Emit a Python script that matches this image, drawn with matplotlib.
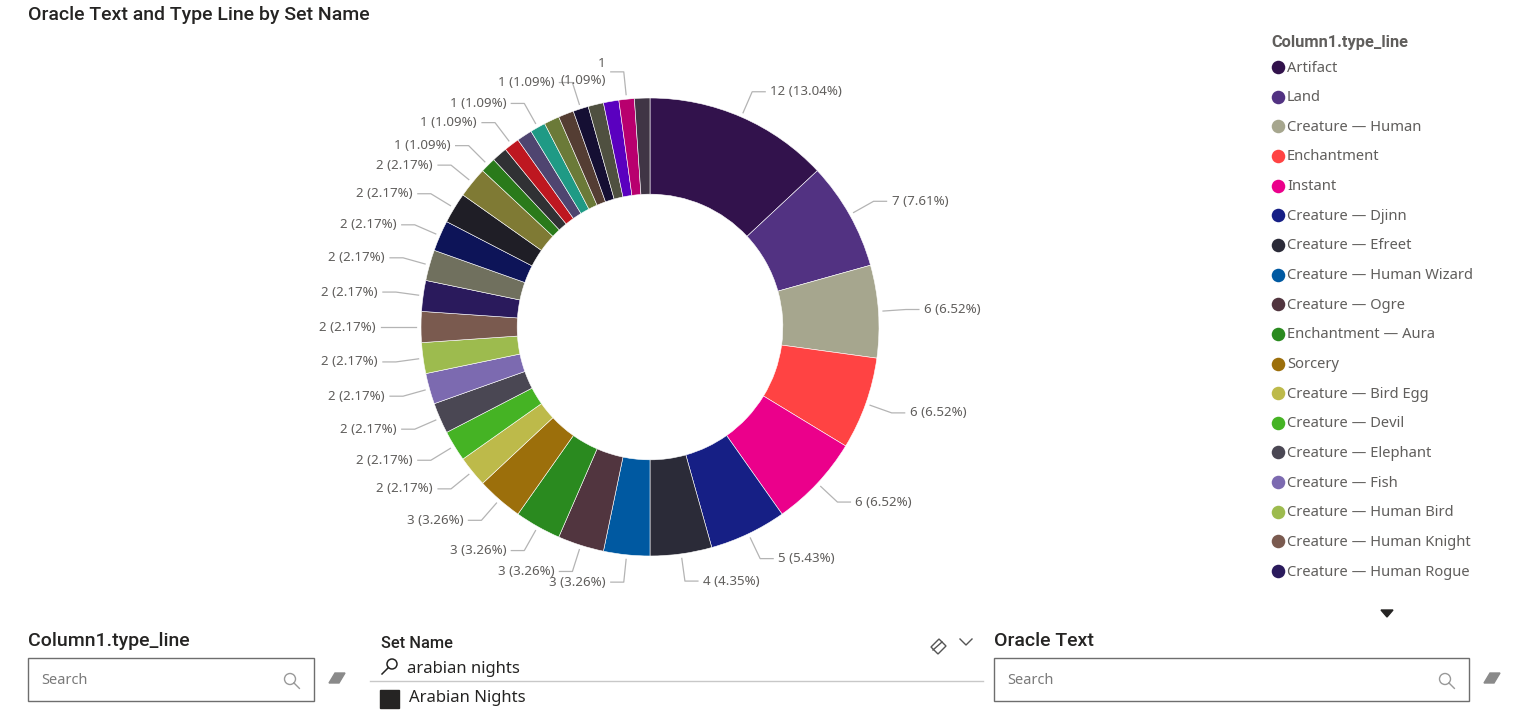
import matplotlib.pyplot as plt
import numpy as np
from matplotlib.patches import Circle, Polygon, Rectangle

plt.rcParams["font.family"] = ["Noto Sans", "DejaVu Sans"]

# slices in clockwise order, largest first (Arabian Nights set)
type_lines = [
    "Artifact", "Land", "Creature — Human", "Enchantment", "Instant",
    "Creature — Djinn", "Creature — Efreet", "Creature — Human Wizard",
    "Creature — Ogre", "Enchantment — Aura", "Sorcery",
    "Creature — Bird Egg", "Creature — Devil", "Creature — Elephant",
    "Creature — Fish", "Creature — Human Bird", "Creature — Human Knight",
    "Creature — Human Rogue", "Creature — Human Warrior", "Creature — Snake",
    "Creature — Zombie", "Land — Desert",
    "Artifact Creature — Construct", "Creature — Ape", "Creature — Beast",
    "Creature — Bird", "Creature — Camel", "Creature — Human Nomad",
    "Creature — Human Pirate", "Creature — Jackal", "Creature — Plant",
    "Creature — Turtle", "Creature — Wolf", "World Enchantment",
]
counts = [12, 7, 6, 6, 6, 5, 4, 3, 3, 3, 3,
          2, 2, 2, 2, 2, 2, 2, 2, 2, 2, 2,
          1, 1, 1, 1, 1, 1, 1, 1, 1, 1, 1, 1]
colors = [
    "#32124C", "#523282", "#A6A68E", "#FF4343", "#EB008B", "#161F85",
    "#2B2B38", "#0059A1", "#51353F", "#2A8A1F", "#9C6F0B",
    "#BDBA4A", "#45B324", "#4A4753", "#7C6AB0", "#9DBB4E", "#7A5A4F",
    "#2A1A5C", "#70705E", "#0D1458", "#1F1E26", "#7F7A34",
    "#2A7A1A", "#303134", "#BE1720", "#4F4570", "#1F9A85", "#6B7A38",
    "#543D33", "#150F33", "#4F5040", "#5A00BF", "#B8006E", "#403545",
]
legend_rows = 18

W, H = 1533, 712
fig = plt.figure(figsize=(W / 100, H / 100), dpi=100)
ax = fig.add_axes([0, 0, 1, 1])


def Y(y):
    # pixel row (from top) -> data y
    return H - y


cx, cy, R = 650, Y(327), 229
wedges, _ = ax.pie(counts, colors=colors, startangle=90, counterclock=False,
                   radius=R, center=(cx, cy),
                   wedgeprops=dict(width=R * 0.42, edgecolor="white", linewidth=0.4))

# data labels; Power BI hides most of the crowded 1-count ones
total = sum(counts)
shown = [c > 1 for c in counts]
for k in (22, 24, 26, 29, 32):
    shown[k] = True
label_color = "#605E5C"
for i, w in enumerate(wedges):
    if not shown[i]:
        continue
    a = np.deg2rad((w.theta1 + w.theta2) / 2)
    c, s = np.cos(a), np.sin(a)
    side = 1 if c >= 0 else -1
    x0, y0 = cx + 1.02 * R * c, cy + 1.02 * R * s
    x1, y1 = cx + 1.12 * R * c, cy + 1.12 * R * s
    x2 = x1 + side * 13
    ax.plot([x0, x1, x2], [y0, y1, y1], color="#B4B4B4", lw=0.9)
    txt = f"{counts[i]} ({counts[i] / total * 100:.2f}%)"
    if i == 32:
        txt = f"{counts[i]}\n({counts[i] / total * 100:.2f}%)"
    ax.text(x2 + side * 5, y1, txt, ha="left" if side > 0 else "right",
            va="center", fontsize=9.6, color=label_color, multialignment="right",
            linespacing=1.45)

# title
ax.text(28, Y(15), "Oracle Text and Type Line by Set Name", fontsize=14,
        family="Roboto", fontweight="medium", color="#252423", va="center")

# legend
ax.text(1271, Y(43), "Column1.type_line", fontsize=11.8, family="Roboto",
        fontweight="bold", color="#605E5C", va="center")
for j in range(legend_rows):
    ly = Y(67 + j * 29.65)
    ax.scatter([1278], [ly], s=95, color=colors[j], zorder=3, linewidths=0)
    ax.text(1287, ly - 1, type_lines[j], fontsize=10.6, color="#605E5C", va="center")
ax.add_patch(Polygon([[1381, Y(610)], [1393, Y(610)], [1387, Y(617)]],
                     closed=True, color="#252423"))


def search_icon(x, y, r=5.5, col="#999999", lw=1.0):
    ax.add_patch(Circle((x, y), r, fill=False, ec=col, lw=lw))
    ax.plot([x + r * 0.7, x + r * 1.7], [y - r * 0.7, y - r * 1.7], color=col, lw=lw)


def eraser(x, y, col="#8A8A8A"):
    ax.add_patch(Polygon([[x - 8, y - 5], [x + 2, y - 5], [x + 8, y + 5], [x - 2, y + 5]],
                         closed=True, color=col))


# bottom slicers
slicer_font = dict(family="Roboto", fontweight="medium", color="#252423", va="center")
ax.text(28, Y(641), "Column1.type_line", fontsize=14, **slicer_font)
ax.add_patch(Rectangle((28, Y(701)), 286, 43, fill=False, ec="#6E6E6E", lw=1))
ax.text(41, Y(681), "Search", fontsize=10.5, color="#7A7A7A", va="center")
search_icon(290, Y(679))
eraser(337, Y(678))

ax.text(994, Y(641), "Oracle Text", fontsize=14, **slicer_font)
ax.add_patch(Rectangle((994, Y(701)), 475, 43, fill=False, ec="#6E6E6E", lw=1))
ax.text(1007, Y(681), "Search", fontsize=10.5, color="#7A7A7A", va="center")
search_icon(1445, Y(679))
eraser(1492, Y(678))

ax.text(381, Y(644), "Set Name", fontsize=11.8, fontweight="medium", color="#252423",
        va="center", family="Roboto")
ax.add_patch(Circle((392, Y(664)), 5, fill=False, ec="#252423", lw=1.1))
ax.plot([388.5, 382], [Y(667.5), Y(674)], color="#252423", lw=1.1)
ax.text(407, Y(669), "arabian nights", fontsize=12, color="#252423", va="center")
ax.plot([370, 983], [Y(681), Y(681)], color="#C8C8C8", lw=1)
ax.add_patch(Rectangle((380, Y(708)), 19, 18, color="#252423"))
ax.text(409, Y(698), "Arabian Nights", fontsize=12, color="#252423", va="center")
# eraser outline and chevron in the slicer header
ax.add_patch(Polygon([[931, Y(647)], [939, Y(639)], [946, Y(646)], [938, Y(654)]],
                     closed=True, fill=False, ec="#555555", lw=1))
ax.plot([933, 942], [Y(650), Y(642)], color="#555555", lw=1)
ax.plot([960, 966, 972], [Y(639), Y(645), Y(639)], color="#555555", lw=1)

ax.set_xlim(0, W)
ax.set_ylim(0, H)
ax.set_aspect("equal")
ax.axis("off")

fig.savefig("out.png", dpi=100, facecolor="white")
